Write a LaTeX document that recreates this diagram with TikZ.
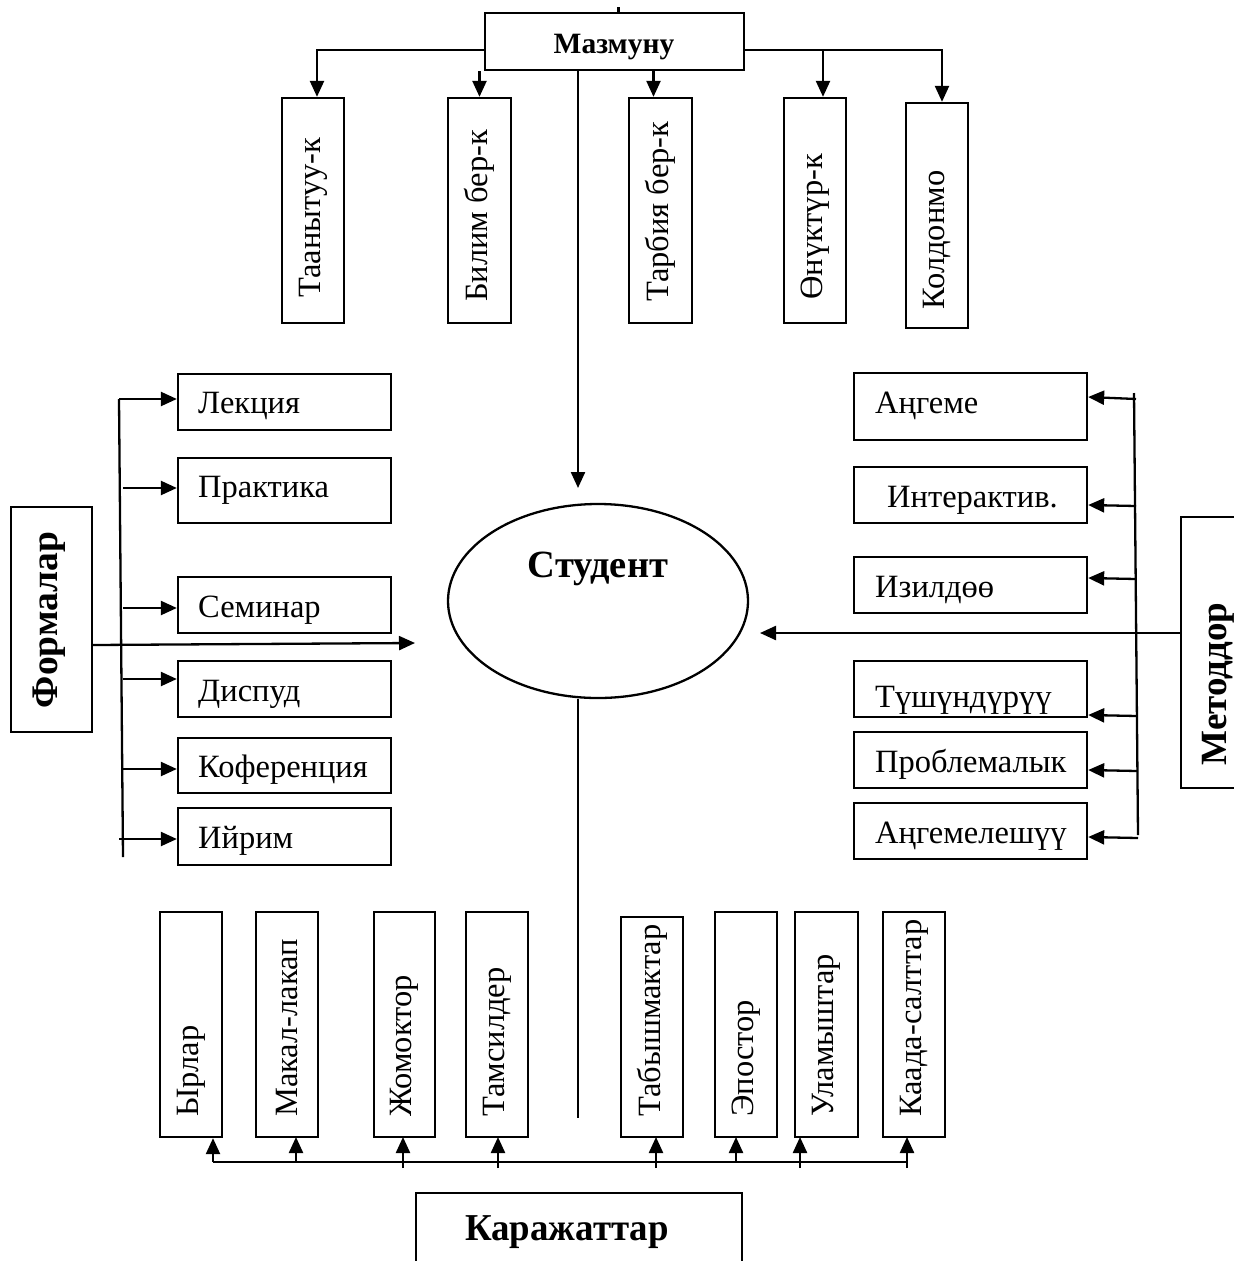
\documentclass[tikz,border=0pt]{standalone}
\usepackage{fontspec}
\setmainfont{Liberation Serif}
\usetikzlibrary{arrows.meta,shapes.geometric}
\begin{document}
\begin{tikzpicture}[x=1pt,y=-1pt,
 box/.style={draw,line width=2.3pt,inner sep=0pt},
 ln/.style={line width=2.3pt},
 arr/.style={line width=2.3pt,-{Triangle[length=16pt,width=14pt]}},
 txt/.style={font=\fontsize{32.5}{38}\selectfont,inner sep=0pt},
 vtxt/.style={txt,rotate=90,anchor=west},
 bold/.style={inner sep=0pt,font=\bfseries}]
\useasboundingbox (0,0) rectangle (1234,1261);

% ---------- top ----------
\node[box,minimum width=259pt,minimum height=57pt] (maz) at (614.5,41.5) {};
\node[bold,anchor=base,font=\fontsize{29.5}{34}\selectfont\bfseries] (mazT) at (614,53) {Мазмуну};
\draw[ln] ([xshift=4pt]maz.north) -- ++(0,-5);

\node[box,minimum width=62pt,minimum height=225pt] (t1) at (313,210.5) {};
\node[box,minimum width=63pt,minimum height=225pt] (t2) at (479.5,210.5) {};
\node[box,minimum width=63pt,minimum height=225pt] (t3) at (660.5,210.5) {};
\node[box,minimum width=62pt,minimum height=225pt] (t4) at (815,210.5) {};
\node[box,minimum width=62pt,minimum height=225pt] (t5) at (937,215.5) {};
\node[vtxt] (t1T) at (313,298) {Таанытуу-к};
\node[vtxt] (t2T) at (479.5,302) {Билим бер-к};
\node[vtxt] (t3T) at (660.5,302) {Тарбия бер-к};
\node[vtxt] (t4T) at (815,300) {Өнүктүр-к};
\node[vtxt] (t5T) at (937,310) {Колдонмо};

\draw[arr] (maz.west |- 0,50) -| ([xshift=4pt]t1.north);
\draw[arr] (t2.north |- maz.south) -- (t2.north);
\draw[arr] ([xshift=-7pt]t3.north |- maz.south) -- ([xshift=-7pt]t3.north);
\draw[arr] (maz.east |- 0,50) -| ([xshift=5pt]t5.north);
\draw[arr] ([xshift=8pt]t4.north |- 0,50) -- ([xshift=8pt]t4.north);

% ---------- centre ----------
\node[ellipse,draw,line width=2.3pt,minimum width=300pt,minimum height=194pt,inner sep=0pt] (stud) at (598,601) {};
\node[bold,anchor=base,font=\fontsize{38.5}{44}\selectfont\bfseries] (studT) at (598,577) {Студент};
\coordinate (studtop) at (578,488);
\coordinate (studleft) at (415,643);
\coordinate (studright) at (760,633);
\draw[arr] (maz.south -| studtop) -- (studtop);

% ---------- left: Формалар ----------
\node[box,minimum width=81pt,minimum height=225pt] (form) at (51.5,619.5) {};
\node[bold,rotate=90,font=\fontsize{37.5}{42}\selectfont\bfseries] (formT) at (49,620) {Формалар};

\node[box,minimum width=213pt,minimum height=56pt] (l1) at (284.5,402) {};
\node[box,minimum width=213pt,minimum height=65pt] (l2) at (284.5,490.5) {};
\node[box,minimum width=213pt,minimum height=56pt] (l3) at (284.5,605) {};
\node[box,minimum width=213pt,minimum height=56pt] (l4) at (284.5,689) {};
\node[box,minimum width=213pt,minimum height=55pt] (l5) at (284.5,765.5) {};
\node[box,minimum width=213pt,minimum height=57pt] (l6) at (284.5,836.5) {};
\node[txt,anchor=base west] (l1T) at (198,413) {Лекция};
\node[txt,anchor=base west] (l2T) at (198,497) {Практика};
\node[txt,anchor=base west] (l3T) at (198,617) {Семинар};
\node[txt,anchor=base west] (l4T) at (198,701) {Диспуд};
\node[txt,anchor=base west] (l5T) at (198,777) {Коференция};
\node[txt,anchor=base west] (l6T) at (198,848) {Ийрим};

\coordinate (ftop) at (119,399);
\coordinate (fbot) at (123,857);
\draw[ln] (fbot) -- (ftop);
\draw[arr] (ftop) -- (ftop -| l1.west);
\draw[arr] (123,488) -- (l2.west |- 0,488);
\draw[arr] (123,608) -- (l3.west |- 0,608);
\draw[arr] (123,679) -- (l4.west |- 0,679);
\draw[arr] (123,769) -- (l5.west |- 0,769);
\draw[arr] (119,839) -- (l6.west |- 0,839);
\draw[arr] (form.east |- 0,645) -- (studleft);

% ---------- right: Методдор ----------
\node[box,minimum width=60pt,minimum height=271pt] (met) at (1211,652.5) {};
\node[bold,rotate=90,font=\fontsize{37}{42}\selectfont\bfseries] (metT) at (1218,684) {Методдор};

\node[box,minimum width=233pt,minimum height=67pt] (r1) at (970.5,406.5) {};
\node[box,minimum width=233pt,minimum height=56pt] (r2) at (970.5,495) {};
\node[box,minimum width=233pt,minimum height=56pt] (r3) at (970.5,585) {};
\node[box,minimum width=233pt,minimum height=56pt] (r4) at (970.5,689) {};
\node[box,minimum width=233pt,minimum height=56pt] (r5) at (970.5,760) {};
\node[box,minimum width=233pt,minimum height=56pt] (r6) at (970.5,831) {};
\node[txt,anchor=base west] (r1T) at (875,413) {Аңгеме};
\node[txt,anchor=base west] (r2T) at (887,507) {Интерактив.};
\node[txt,anchor=base west] (r3T) at (875,597) {Изилдөө};
\node[txt,anchor=base west] (r4T) at (875,707) {Түшүндүрүү};
\node[txt,anchor=base west] (r5T) at (875,772) {Проблемалык};
\node[txt,anchor=base west] (r6T) at (875,843) {Аңгемелешүү};

\coordinate (mtop) at (1134,393);
\coordinate (mbot) at (1138,835);
\draw[ln] (mtop) -- (mbot);
\draw[arr] (1136,399) -- (r1.east |- 0,397);
\draw[arr] (1136,506) -- (r2.east |- 0,505);
\draw[arr] (1136,579) -- (r3.east |- 0,578);
\draw[arr] (1137,716) -- (r4.east |- 0,715);
\draw[arr] (1137,771) -- (r5.east |- 0,770);
\draw[arr] (1138,838) -- (r6.east |- 0,837);
\draw[arr] (met.west |- 0,633) -- (studright);

% ---------- bottom: Каражаттар ----------
\node[box,minimum width=62pt,minimum height=225pt] (b1) at (191,1024.5) {};
\node[box,minimum width=62pt,minimum height=225pt] (b2) at (287,1024.5) {};
\node[box,minimum width=61pt,minimum height=225pt] (b3) at (404.5,1024.5) {};
\node[box,minimum width=62pt,minimum height=225pt] (b4) at (497,1024.5) {};
\node[box,minimum width=62pt,minimum height=220pt] (b5) at (652,1027) {};
\node[box,minimum width=62pt,minimum height=225pt] (b6) at (746,1024.5) {};
\node[box,minimum width=63pt,minimum height=225pt] (b7) at (826.5,1024.5) {};
\node[box,minimum width=62pt,minimum height=225pt] (b8) at (914,1024.5) {};
\node[vtxt] (b1T) at (191,1117) {Ырлар};
\node[vtxt] (b2T) at (287,1117) {Макал-лакап};
\node[vtxt] (b3T) at (404.5,1117) {Жомоктор};
\node[vtxt] (b4T) at (497,1117) {Тамсилдер};
\node[vtxt] (b5T) at (652,1117) {Табышмактар};
\node[vtxt] (b6T) at (746,1117) {Эпостор};
\node[vtxt] (b7T) at (826.5,1117) {Уламыштар};
\node[vtxt] (b8T) at (914,1117) {Каада-салттар};

\node[box,minimum width=326pt,minimum height=90pt] (kar) at (579,1238) {};
\node[bold,anchor=base] (karT) at (567,1240) {\fontsize{38}{44}\selectfont\bfseries\scalebox{0.97}[1]{Каражаттар}};

\draw[ln] (stud.south -| studtop) -- (578,1118);
\coordinate (hl) at (213,1162);
\coordinate (hr) at (907,1162);
\draw[ln] (hl) -- (hr);
\draw[arr] (hl) -- (hl |- b1.south);
\draw[arr] (296,1162) -- (296,1137);
\draw[arr] (403,1168) -- (403,1137);
\draw[arr] (498,1168) -- (498,1137);
\draw[arr] (656,1168) -- (656,1137);
\draw[arr] (736,1162) -- (736,1137);
\draw[arr] (800,1168) -- (800,1137);
\draw[arr] (907,1168) -- (907,1137);
\end{tikzpicture}
\end{document}
